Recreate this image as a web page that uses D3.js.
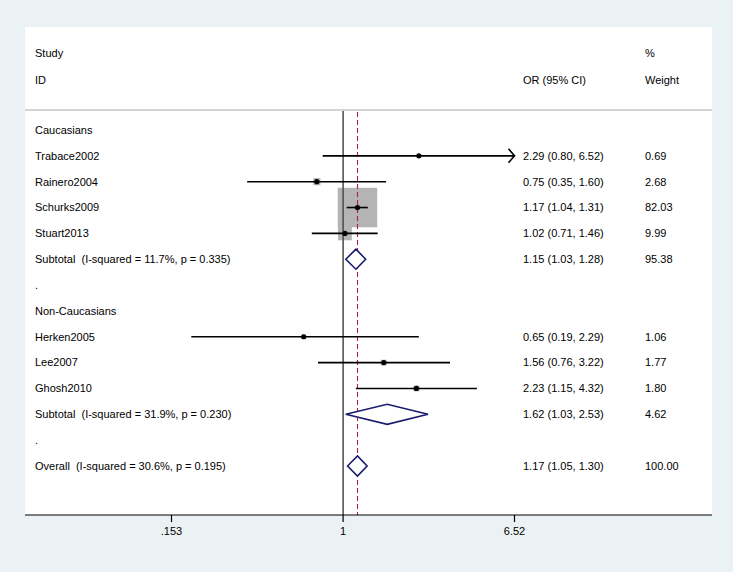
<!DOCTYPE html>
<html><head><meta charset="utf-8">
<script src="https://cdn.jsdelivr.net/npm/d3@7"></script>
<style>body{margin:0;background:rgb(234,242,243);}svg{display:block;}text{white-space:pre;}</style>
</head><body>
<svg id="chart" width="733" height="572"></svg>
<script>
// ---- data ----
const rowLabels = ["Caucasians","Trabace2002","Rainero2004","Schurks2009","Stuart2013",
  "Subtotal  (I-squared = 11.7%, p = 0.335)",".","Non-Caucasians","Herken2005","Lee2007","Ghosh2010",
  "Subtotal  (I-squared = 31.9%, p = 0.230)",".","Overall  (I-squared = 30.6%, p = 0.195)"];
const rowTypes = ["group","study","study","study","study","pooled","blank","group","study","study","study","pooled","blank","pooled"];
const orValues = [null,2.29,0.75,1.17,1.02,1.15,null,null,0.65,1.56,2.23,1.62,null,1.17];
const ciLow    = [null,0.80,0.35,1.04,0.71,1.03,null,null,0.19,0.76,1.15,1.03,null,1.05];
const ciHigh   = [null,6.52,1.60,1.31,1.46,1.28,null,null,2.29,3.22,4.32,2.53,null,1.30];
const weights  = [null,0.69,2.68,82.03,9.99,95.38,null,null,1.06,1.77,1.80,4.62,null,100.00];
const ciText   = [null,"2.29 (0.80, 6.52)","0.75 (0.35, 1.60)","1.17 (1.04, 1.31)","1.02 (0.71, 1.46)","1.15 (1.03, 1.28)",null,null,
  "0.65 (0.19, 2.29)","1.56 (0.76, 3.22)","2.23 (1.15, 4.32)","1.62 (1.03, 2.53)",null,"1.17 (1.05, 1.30)"];
const weightText = [null,"0.69","2.68","82.03","9.99","95.38",null,null,"1.06","1.77","1.80","4.62",null,"100.00"];
const tickValues = [0.153, 1, 6.52];
const tickLabels = [".153", "1", "6.52"];
const overallEffect = 1.17;
const nullEffect = 1;

// ---- layout ----
const svg = d3.select("#chart");
const font = "'Liberation Sans', Arial, sans-serif";
const fs = "11px";
const plotL = 25, plotR = 712, plotT = 27, axisY = 515;
const x = d3.scaleLog().domain([0.153, 6.52]).range([171.5, 514.5]);
const y = d3.scaleLinear().domain([0, rowLabels.length - 1]).range([130, 466]);
const rows = rowLabels.map((l, i) => ({label: l, type: rowTypes[i], or: orValues[i], lo: ciLow[i], hi: ciHigh[i], w: weights[i], ci: ciText[i], wt: weightText[i], i}));

svg.append("rect").attr("x", plotL).attr("y", plotT).attr("width", plotR - plotL).attr("height", axisY - plotT).attr("fill", "#fff");

// headers
const hdr = svg.append("g").attr("font-family", font).attr("font-size", fs).attr("fill", "#000");
hdr.append("text").attr("x", 35).attr("y", 53).attr("dy", "0.35em").text("Study");
hdr.append("text").attr("x", 35).attr("y", 80).attr("dy", "0.35em").text("ID");
hdr.append("text").attr("x", 523).attr("y", 80).attr("dy", "0.35em").text("OR (95% CI)");
hdr.append("text").attr("x", 645).attr("y", 53).attr("dy", "0.35em").text("%");
hdr.append("text").attr("x", 645).attr("y", 80).attr("dy", "0.35em").text("Weight");

svg.append("line").attr("x1", plotL).attr("x2", plotR).attr("y1", 110).attr("y2", 110)
  .attr("stroke", "#d4d4d4").attr("stroke-width", 2);

// squares (area proportional to weight)
const maxSide = 39.5, maxW = d3.max(rows.filter(r => r.type === "study"), r => r.w);
const studies = rows.filter(r => r.type === "study");
svg.append("g").selectAll("rect").data(studies).join("rect")
  .attr("x", d => x(d.or) - maxSide * Math.sqrt(d.w / maxW) / 2)
  .attr("y", d => y(d.i) - maxSide * Math.sqrt(d.w / maxW) / 2)
  .attr("width", d => maxSide * Math.sqrt(d.w / maxW))
  .attr("height", d => maxSide * Math.sqrt(d.w / maxW))
  .attr("fill", "#b4b4b4");

// reference lines
svg.append("line").attr("x1", x(nullEffect)).attr("x2", x(nullEffect)).attr("y1", 111).attr("y2", axisY)
  .attr("stroke", "#4a4a4a").attr("stroke-width", 1.5);
svg.append("line").attr("x1", Math.round(x(overallEffect)) + 0.5).attr("x2", Math.round(x(overallEffect)) + 0.5).attr("y1", 112).attr("y2", axisY)
  .attr("stroke", "#b0203c").attr("stroke-width", 1.1).attr("stroke-dasharray", "5,3");

// CI lines
const xMax = x.domain()[1];
svg.append("g").selectAll("line").data(studies).join("line")
  .attr("x1", d => x(d.lo)).attr("x2", d => x(Math.min(d.hi, xMax)))
  .attr("y1", d => y(d.i)).attr("y2", d => y(d.i))
  .attr("stroke", "#000").attr("stroke-width", 1.6);
// arrows for CIs reaching the edge
svg.append("g").selectAll("path").data(studies.filter(d => d.hi >= xMax)).join("path")
  .attr("d", d => { const ax = x(xMax), ay = y(d.i); return `M${ax-6},${ay-7}L${ax},${ay}L${ax-6},${ay+7}`; })
  .attr("fill", "none").attr("stroke", "#000").attr("stroke-width", 1.6);
// point markers
svg.append("g").selectAll("circle").data(studies).join("circle")
  .attr("cx", d => x(d.or)).attr("cy", d => y(d.i)).attr("r", 2.6)
  .attr("fill", "#000");

// pooled diamonds
svg.append("g").selectAll("path").data(rows.filter(r => r.type === "pooled")).join("path")
  .attr("d", d => { const yy = y(d.i), h = 10;
    return `M${x(d.lo)},${yy}L${x(d.or)},${yy-h}L${x(d.hi)},${yy}L${x(d.or)},${yy+h}Z`; })
  .attr("fill", "#fff").attr("stroke", "#1a1a6e").attr("stroke-width", 1.6);

// row text
const tg = svg.append("g").attr("font-family", font).attr("font-size", fs).attr("fill", "#000");
tg.selectAll("text.lab").data(rows).join("text").attr("class", "lab")
  .attr("x", 35).attr("y", d => y(d.i)).attr("dy", "0.35em").text(d => d.label);
tg.selectAll("text.ci").data(rows.filter(r => r.ci)).join("text").attr("class", "ci")
  .attr("x", 523).attr("y", d => y(d.i)).attr("dy", "0.35em").text(d => d.ci);
tg.selectAll("text.wt").data(rows.filter(r => r.wt)).join("text").attr("class", "wt")
  .attr("x", 645).attr("y", d => y(d.i)).attr("dy", "0.35em").text(d => d.wt);

// axis
const ax = svg.append("g");
ax.append("line").attr("x1", plotL).attr("x2", plotR).attr("y1", axisY).attr("y2", axisY)
  .attr("stroke", "#000").attr("stroke-width", 1.2);
ax.selectAll("line.tick").data(tickValues).join("line").attr("class", "tick")
  .attr("x1", d => x(d)).attr("x2", d => x(d)).attr("y1", axisY).attr("y2", axisY + 7)
  .attr("stroke", "#000").attr("stroke-width", 1.2);
ax.selectAll("text").data(tickValues).join("text")
  .attr("x", d => x(d)).attr("y", axisY + 16).attr("dy", "0.35em").attr("text-anchor", "middle")
  .attr("font-family", font).attr("font-size", fs)
  .text((d, i) => tickLabels[i]);
</script>
</body></html>
